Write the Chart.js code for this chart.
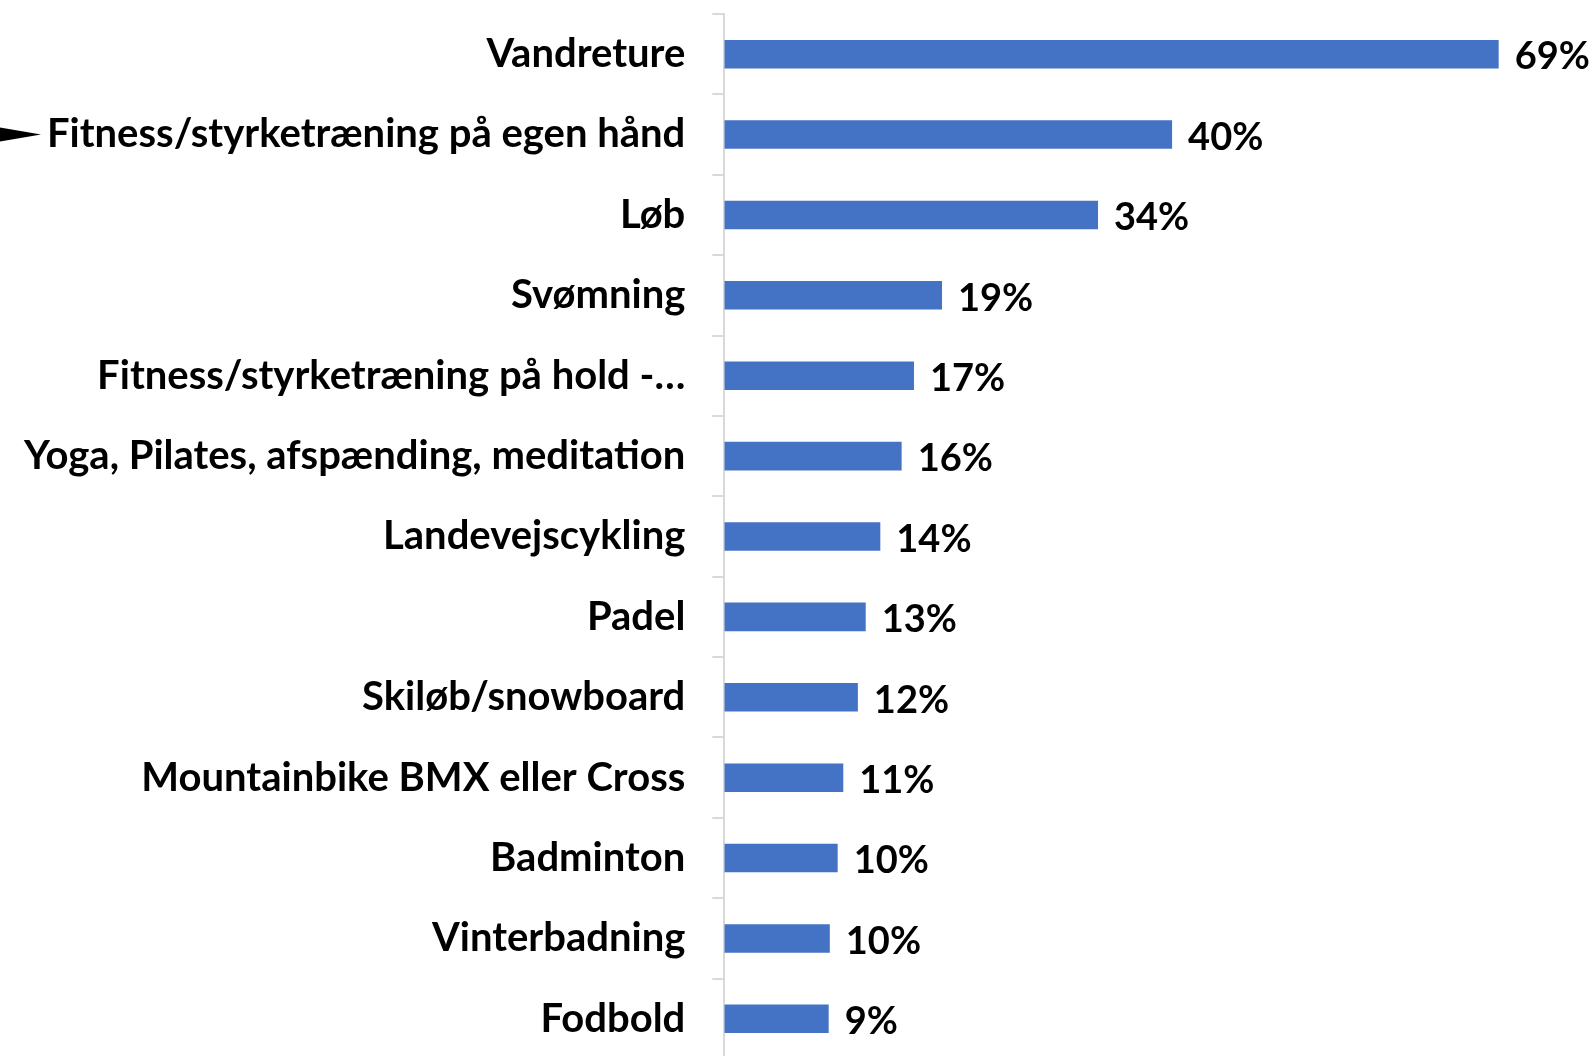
<!DOCTYPE html>
<html lang="da">
<head>
    <meta charset="UTF-8">
    <title>Aktiviteter</title>
    <script src="https://cdn.jsdelivr.net/npm/chart.js"></script>
    <style>
        html, body { margin: 0; padding: 0; background: #fff; overflow: hidden; }
        .wrap { position: relative; top: -37px; left: -3px; width: 1597px; height: 1147px; }
    </style>
</head>
<body>
    <div class="wrap">
        <canvas id="barChart"></canvas>
    </div>

    <script>
        const categories = [
            'Vandreture',
            'Fitness/styrketræning på egen hånd',
            'Løb',
            'Svømning',
            'Fitness/styrketræning på hold -…',
            'Yoga, Pilates, afspænding, meditation',
            'Landevejscykling',
            'Padel',
            'Skiløb/snowboard',
            'Mountainbike BMX eller Cross',
            'Badminton',
            'Vinterbadning',
            'Fodbold'
        ];
        const shares = [69, 39.9, 33.3, 19.4, 16.9, 15.8, 13.9, 12.6, 11.9, 10.6, 10.1, 9.4, 9.3];
        const shareLabels = ['69%', '40%', '34%', '19%', '17%', '16%', '14%', '13%', '12%', '11%', '10%', '10%', '9%'];

        const FONT = 'Lato, "Open Sans", sans-serif';

        // value labels at the end of each bar
        const valueLabels = {
            id: 'valueLabels',
            afterDatasetsDraw(chart) {
                const ctx = chart.ctx;
                const meta = chart.getDatasetMeta(0);
                ctx.save();
                ctx.font = 'bold 38px ' + FONT;
                ctx.fillStyle = '#000';
                ctx.textBaseline = 'middle';
                ctx.textAlign = 'left';
                meta.data.forEach((bar, i) => {
                    ctx.fillText(shareLabels[i], bar.x + 16, bar.y + 3);
                });
                ctx.restore();
            }
        };

        // black arrow pointing at the second category
        const pointerArrow = {
            id: 'pointerArrow',
            afterDraw(chart) {
                const ctx = chart.ctx;
                const y = chart.scales.y.getPixelForValue(1);
                ctx.save();
                ctx.fillStyle = '#000';
                ctx.beginPath();
                ctx.moveTo(3, y - 7);
                ctx.lineTo(44, y);
                ctx.lineTo(3, y + 7);
                ctx.closePath();
                ctx.fill();
                ctx.restore();
            }
        };

        const ctx = document.getElementById('barChart').getContext('2d');
        new Chart(ctx, {
            type: 'bar',
            data: {
                labels: categories,
                datasets: [{
                    data: shares,
                    backgroundColor: '#4472c4',
                    barPercentage: 0.5,
                    categoryPercentage: 0.71
                }]
            },
            options: {
                indexAxis: 'y',
                responsive: true,
                maintainAspectRatio: false,
                animation: false,
                layout: { padding: { top: 0, right: 28, bottom: 0, left: 0 } },
                plugins: {
                    legend: { display: false },
                    tooltip: { enabled: false }
                },
                scales: {
                    x: {
                        display: false,
                        min: 0,
                        max: 75
                    },
                    y: {
                        grid: {
                            offset: true,
                            drawOnChartArea: false,
                            tickLength: 12,
                            color: '#d9d9d9',
                            lineWidth: 2
                        },
                        border: { display: true, color: '#d9d9d9', width: 2 },
                        ticks: {
                            color: '#000',
                            padding: 27,
                            font: { family: FONT, size: 40, weight: 'bold' }
                        }
                    }
                }
            },
            plugins: [valueLabels, pointerArrow]
        });
    </script>
</body>
</html>
